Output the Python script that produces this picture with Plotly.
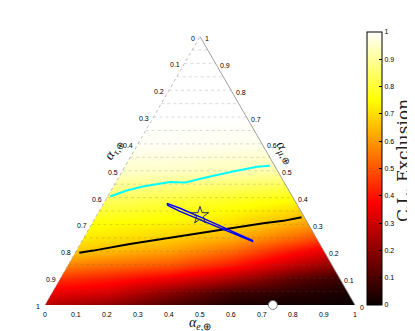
import math
import plotly.graph_objects as go

# ---------------- data (ternary fractions) ----------------
tick_vals = [0, 0.1, 0.2, 0.3, 0.4, 0.5, 0.6, 0.7, 0.8, 0.9, 1]
tick_text = ["0", "0.1", "0.2", "0.3", "0.4", "0.5", "0.6", "0.7", "0.8", "0.9", "1"]
grid_mu_levels = [0.05, 0.1, 0.15, 0.2, 0.25, 0.3, 0.35, 0.4, 0.45, 0.5,
                  0.55, 0.6, 0.65, 0.7, 0.75, 0.8, 0.85, 0.9, 0.95]

# C.L. exclusion field, sampled on horizontal position (0=left .. 1=right) and alpha_mu
field_pos = [0.0, 0.2, 0.4, 0.6, 0.8, 1.0]
field_mu = [0.0, 0.05, 0.1, 0.15, 0.2, 0.25, 0.3, 0.4, 0.5, 0.6, 0.7, 1.0]
cl_col_0 = [0.26, 0.36, 0.46, 0.58, 0.69, 0.74, 0.77, 0.87, 0.95, 0.99, 1, 1]
cl_col_1 = [0.20, 0.32, 0.42, 0.54, 0.65, 0.71, 0.75, 0.85, 0.95, 0.99, 1, 1]
cl_col_2 = [0.10, 0.20, 0.36, 0.50, 0.61, 0.68, 0.73, 0.82, 0.945, 0.99, 1, 1]
cl_col_3 = [0.03, 0.09, 0.26, 0.41, 0.53, 0.63, 0.70, 0.79, 0.93, 0.985, 1, 1]
cl_col_4 = [0.01, 0.05, 0.13, 0.28, 0.40, 0.53, 0.63, 0.76, 0.91, 0.98, 1, 1]
cl_col_5 = [0.00, 0.02, 0.06, 0.16, 0.28, 0.42, 0.55, 0.70, 0.89, 0.975, 1, 1]

# cyan curve (alpha_e, alpha_mu)
cyan_e = [0.008, 0.050, 0.095, 0.174, 0.224, 0.265, 0.293, 0.358, 0.426, 0.466]
cyan_mu = [0.404, 0.4265, 0.4414, 0.4578, 0.4563, 0.4701, 0.4787, 0.4974, 0.5149, 0.5187]

# black curve
black_e = [0.013, 0.0545, 0.160, 0.2485, 0.3068, 0.366, 0.4245, 0.4923, 0.5517, 0.612, 0.664]
black_mu = [0.195, 0.2026, 0.2276, 0.2451, 0.2575, 0.2675, 0.2799, 0.2948, 0.3049, 0.3134, 0.3272]

# blue narrow closed region
blue_e = [0.2042, 0.2554, 0.3358, 0.4370, 0.5490, 0.5509, 0.4407, 0.3405, 0.2610, 0.2111, 0.2042]
blue_mu = [0.3787, 0.3601, 0.3284, 0.2873, 0.2407, 0.2369, 0.2799, 0.3190, 0.3489, 0.3713, 0.3787]

# markers
star_e, star_mu = [1 / 3], [1 / 3]
circle_e, circle_mu = [0.735], [0.0]

S = math.sqrt(3) / 2
OFF = 8  # page body margin in the browser
FW, FH = 415 - OFF, 331 - OFF


def tx(e, mu):
    return [a + b / 2 for a, b in zip(e, mu)]


def ty(mu):
    return [b * S for b in mu]


fig = go.Figure()

# heat field
z = [list(r) for r in zip(cl_col_0, cl_col_1, cl_col_2, cl_col_3, cl_col_4, cl_col_5)]
hot = [[0, "rgb(10,0,0)"], [0.375, "rgb(255,0,0)"], [0.75, "rgb(255,255,0)"], [1, "rgb(255,255,255)"]]
fig.add_trace(go.Heatmap(
    x=field_pos, y=ty(field_mu), z=z, zmin=0, zmax=1, zsmooth="best",
    colorscale=hot, hoverinfo="skip",
    colorbar=dict(
        x=(367 - OFF) / FW, xanchor="left", xref="paper", xpad=0, ypad=0,
        y=1 - (168.5 - OFF) / FH, yanchor="middle",
        thickness=15, thicknessmode="pixels", len=273, lenmode="pixels",
        outlinecolor="black", outlinewidth=1,
        tickvals=tick_vals, ticktext=tick_text,
        ticks="inside", ticklen=3, tickcolor="black",
        tickfont=dict(family="Liberation Sans", size=7, color="black"),
    ),
))

# white masks outside triangle
W = "white"
fig.add_trace(go.Scatter(x=[0, 0.5, 0.5, -0.2, -0.2, 0], y=[0, S, 1.1, 1.1, 0, 0],
                         fill="toself", fillcolor=W, line=dict(width=0), mode="lines",
                         hoverinfo="skip", showlegend=False))
fig.add_trace(go.Scatter(x=[1, 0.5, 0.5, 1.12, 1.12, 1], y=[0, S, 1.1, 1.1, 0, 0],
                         fill="toself", fillcolor=W, line=dict(width=0), mode="lines",
                         hoverinfo="skip", showlegend=False))
fig.add_trace(go.Scatter(x=[-0.2, 1.12, 1.12, -0.2, -0.2], y=[0, 0, -0.2, -0.2, 0],
                         fill="toself", fillcolor=W, line=dict(width=0), mode="lines",
                         hoverinfo="skip", showlegend=False))

# horizontal grid lines (constant alpha_mu)
for m in grid_mu_levels:
    fig.add_trace(go.Scatter(x=[m / 2, 1 - m / 2], y=[m * S, m * S], mode="lines",
                             line=dict(color="rgba(90,90,90,0.28)", width=0.8, dash="dot"),
                             hoverinfo="skip", showlegend=False))

# triangle edges
fig.add_trace(go.Scatter(x=[0, 0.5], y=[0, S], mode="lines",
                         line=dict(color="#aaaaaa", width=0.8, dash="dot"),
                         hoverinfo="skip", showlegend=False))
fig.add_trace(go.Scatter(x=[0.5, 1], y=[S, 0], mode="lines",
                         line=dict(color="#888888", width=0.8),
                         hoverinfo="skip", showlegend=False))

# curves
fig.add_trace(go.Scatter(x=tx(cyan_e, cyan_mu), y=ty(cyan_mu), mode="lines",
                         line=dict(color="cyan", width=2), showlegend=False))
fig.add_trace(go.Scatter(x=tx(black_e, black_mu), y=ty(black_mu), mode="lines",
                         line=dict(color="black", width=2), showlegend=False))
fig.add_trace(go.Scatter(x=tx(blue_e, blue_mu), y=ty(blue_mu), mode="lines",
                         line=dict(color="blue", width=1.5), showlegend=False))
fig.add_trace(go.Scatter(x=tx(star_e, star_mu), y=ty(star_mu), mode="markers",
                         marker=dict(symbol="star-open", size=13,
                                     color="rgb(40,40,110)", line=dict(width=1)),
                         showlegend=False))
fig.add_trace(go.Scatter(x=tx(circle_e, circle_mu), y=ty(circle_mu), mode="markers",
                         marker=dict(symbol="circle", size=9, color="white",
                                     line=dict(color="#666", width=0.8)),
                         showlegend=False, cliponaxis=False))

ann = []
tf = dict(family="Liberation Sans", size=7, color="black")
for v, t in zip(tick_vals, tick_text):
    # bottom: alpha_e
    ann.append(dict(x=v, y=0, text=t, showarrow=False, xanchor="center", yanchor="middle",
                    yshift=-9, font=tf))
    # left: alpha_tau (alpha_mu = 1 - v on the left edge)
    m = 1 - v
    ann.append(dict(x=m / 2, y=m * S, text=t, showarrow=False, xanchor="right",
                    yanchor="middle", xshift=-3, yshift=-1.5, font=tf))
    # right: alpha_mu
    ann.append(dict(x=1 - v / 2, y=v * S, text=t, showarrow=False, xanchor="left",
                    yanchor="middle", xshift=2.5, yshift=-2, font=tf))

lf = dict(family="Liberation Serif", size=14, color="#111")
ann.append(dict(x=0.5, y=0, text="<i>α</i><sub><i>e</i>,⊕</sub>", showarrow=False,
                xanchor="center", yanchor="middle", yshift=-18, font=lf))
ann.append(dict(x=(113 - 45) / 310, y=(305 - 150) / 310, text="<i>α</i><sub><i>τ</i>,⊕</sub>",
                showarrow=False, textangle=-60, xanchor="center", yanchor="middle", font=lf))
ann.append(dict(x=(285 - 45) / 310, y=(305 - 152) / 310, text="<i>α</i><sub><i>μ</i>,⊕</sub>",
                showarrow=False, textangle=60, xanchor="center", yanchor="middle", font=lf))
# colour-bar title
ann.append(dict(x=(403 - OFF) / FW, y=1 - (161 - OFF) / FH, xref="paper", yref="paper",
                text="C.L. Exclusion", showarrow=False, textangle=-90,
                xanchor="center", yanchor="middle",
                font=dict(family="DejaVu Serif", size=17, color="#222")))

fig.update_layout(
    width=FW, height=FH, margin=dict(l=0, r=0, t=0, b=0, pad=0, autoexpand=False),
    paper_bgcolor="white", plot_bgcolor="white",
    xaxis=dict(range=[(OFF - 45) / 310, 370 / 310], visible=False, fixedrange=True),
    yaxis=dict(range=[-26 / 310, (305 - OFF) / 310], visible=False, fixedrange=True),
    annotations=ann, showlegend=False,
)

fig.write_html("out.html")
